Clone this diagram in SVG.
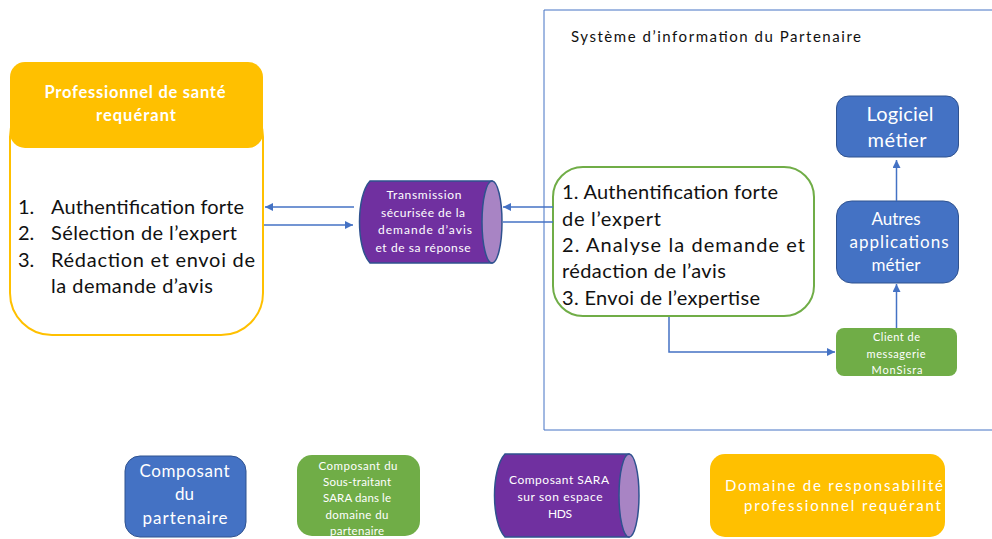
<svg xmlns="http://www.w3.org/2000/svg" width="992" height="539" viewBox="0 0 992 539">
<style>
text{font-family:"Lato","Carlito","Open Sans",sans-serif;}
.d{fill:#111;font-size:20px}
.w{fill:#fff}
.c{text-anchor:middle}
.l{fill:none;stroke:#4472C4;stroke-width:1.5}
.cy{fill:#7030A0;stroke:#2F528F;stroke-width:1.5}
.ce{fill:#A884C4;stroke:#2F528F;stroke-width:1.5}
.b{fill:#4472C4;stroke:#2F528F;stroke-width:1}
.g{fill:#70AD47}
.y{fill:#FFC000}
</style>
<defs>
<marker id="a" viewBox="0 0 8 8" refX="8" refY="4" markerWidth="8" markerHeight="8" markerUnits="userSpaceOnUse" orient="auto"><path d="M0 0L8 4L0 8Z" fill="#4472C4"/></marker>
</defs>
<rect x="0" y="0" width="992" height="539" fill="#fff"/>
<g id="partner-frame">
<path d="M1000 10H544V430H1000" fill="none" stroke="#4472C4" stroke-width="1"/>
<text x="571" y="42" font-size="15" fill="#111" textLength="290" lengthAdjust="spacing">Système d’information du Partenaire</text>
</g>
<g id="requerant">
<rect x="10" y="95" width="253" height="240" rx="42" fill="#fff" stroke="#FFC000" stroke-width="2"/>
<rect x="10" y="62" width="253" height="86" rx="15" class="y"/>
<text x="135" y="98" font-size="16.5" font-weight="700" class="w c" textLength="181" lengthAdjust="spacing">Professionnel de santé</text>
<text x="136" y="121" font-size="16.5" font-weight="700" class="w c" textLength="80" lengthAdjust="spacing">requérant</text>
<text x="18" y="214" class="d">1.</text><text x="51" y="214" class="d" textLength="193" lengthAdjust="spacing">Authentification forte</text>
<text x="18" y="240" class="d">2.</text><text x="51" y="240" class="d" textLength="186" lengthAdjust="spacing">Sélection de l’expert</text>
<text x="18" y="267" class="d">3.</text><text x="51" y="267" class="d" textLength="204" lengthAdjust="spacing">Rédaction et envoi de</text>
<text x="51" y="293" class="d" textLength="162" lengthAdjust="spacing">la demande d’avis</text>
</g>
<g id="transmission">
<path d="M370 181H492V263H370C356 248 356 196 370 181Z" class="cy"/>
<ellipse cx="492" cy="222" rx="10" ry="41" class="ce"/>
<g class="w c" font-size="12">
<text x="424" y="199" textLength="75" lengthAdjust="spacing">Transmission</text>
<text x="423" y="217" textLength="84" lengthAdjust="spacing">sécurisée de la</text>
<text x="425" y="234" textLength="94" lengthAdjust="spacing">demande d’avis</text>
<text x="423" y="252" textLength="95" lengthAdjust="spacing">et de sa réponse</text>
</g>
</g>
<g id="expert">
<rect x="553" y="167" width="261" height="149" rx="30" fill="#fff" stroke="#70AD47" stroke-width="2"/>
<text x="562" y="199" class="d" textLength="216" lengthAdjust="spacing">1. Authentification forte</text>
<text x="562" y="226" class="d" textLength="99" lengthAdjust="spacing">de l’expert</text>
<text x="562" y="252" class="d" textLength="243" lengthAdjust="spacing">2.  Analyse la demande et</text>
<text x="562" y="278" class="d" textLength="164" lengthAdjust="spacing">rédaction de l’avis</text>
<text x="562" y="305" class="d" textLength="198" lengthAdjust="spacing">3. Envoi de l’expertise</text>
</g>
<g id="logiciel">
<rect x="836.500" y="96" width="122" height="61" rx="12" class="b"/>
<text x="900" y="121" font-size="20" class="w c" textLength="67" lengthAdjust="spacing">Logiciel</text>
<text x="897" y="147" font-size="20" class="w c" textLength="59" lengthAdjust="spacing">métier</text>
</g>
<g id="autres">
<rect x="836.500" y="201" width="122" height="82" rx="15" class="b"/>
<text x="896" y="225" font-size="17" class="w c" textLength="49" lengthAdjust="spacing">Autres</text>
<text x="899" y="248" font-size="17" class="w c" textLength="99" lengthAdjust="spacing">applications</text>
<text x="896" y="271" font-size="17" class="w c" textLength="49" lengthAdjust="spacing">métier</text>
</g>
<g id="client">
<rect x="836" y="328" width="121" height="48" rx="8" class="g"/>
<g class="w c" font-size="11">
<text x="896.500" y="341" textLength="47" lengthAdjust="spacing">Client de</text>
<text x="896" y="358" textLength="59" lengthAdjust="spacing">messagerie</text>
<text x="897" y="374" textLength="51" lengthAdjust="spacing">MonSisra</text>
</g>
</g>
<g id="connectors">
<path d="M354 207H265" class="l" marker-end="url(#a)"/>
<path d="M264 225H353" class="l" marker-end="url(#a)"/>
<path d="M553 207H503" class="l" marker-end="url(#a)"/>
<path d="M553 222H503" class="l"/>
<path d="M896.500 201V160" class="l" marker-end="url(#a)"/>
<path d="M896.500 328V284" class="l" marker-end="url(#a)"/>
<path d="M669 317V352H835" class="l" marker-end="url(#a)"/>
</g>
<g id="legend-partenaire">
<rect x="125" y="456" width="121" height="81" rx="15" class="b"/>
<g class="w c" font-size="17">
<text x="184.500" y="477" textLength="90" lengthAdjust="spacing">Composant</text>
<text x="184.500" y="500" textLength="19" lengthAdjust="spacing">du</text>
<text x="185" y="524" textLength="85" lengthAdjust="spacing">partenaire</text>
</g>
</g>
<g id="legend-sous-traitant">
<rect x="297" y="455" width="123" height="81" rx="15" class="g"/>
<g class="w c" font-size="11.500">
<text x="358" y="470" textLength="79" lengthAdjust="spacing">Composant du</text>
<text x="357" y="486" textLength="68" lengthAdjust="spacing">Sous-traitant</text>
<text x="357" y="502" textLength="68" lengthAdjust="spacing">SARA dans le</text>
<text x="357" y="519" textLength="63" lengthAdjust="spacing">domaine du</text>
<text x="357" y="535" textLength="54" lengthAdjust="spacing">partenaire</text>
</g>
</g>
<g id="legend-sara">
<path d="M505 454H629V537H505C491 522 491 469 505 454Z" class="cy"/>
<ellipse cx="629" cy="495.500" rx="10" ry="41.500" class="ce"/>
<g class="w c" font-size="12">
<text x="559" y="484" textLength="100" lengthAdjust="spacing">Composant SARA</text>
<text x="560" y="501" textLength="85" lengthAdjust="spacing">sur son espace</text>
<text x="560" y="518" textLength="24" lengthAdjust="spacing">HDS</text>
</g>
</g>
<g id="legend-domaine">
<rect x="710" y="454" width="235" height="83" rx="15" class="y"/>
<g class="w" font-size="15" text-anchor="end">
<text x="943" y="491" textLength="218" lengthAdjust="spacing">Domaine de responsabilité</text>
<text x="941" y="511" textLength="197" lengthAdjust="spacing">professionnel requérant</text>
</g>
</g>
</svg>
